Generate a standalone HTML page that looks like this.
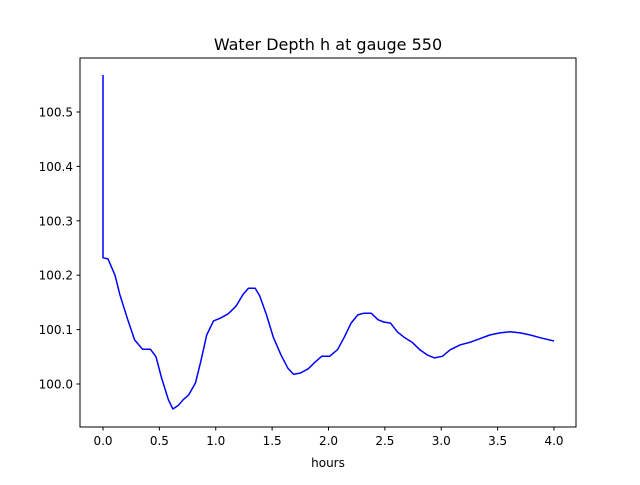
<!DOCTYPE html>
<html><head><meta charset="utf-8"><style>
body{margin:0;background:#fff}
svg text{font-family:"DejaVu Sans","Liberation Sans",sans-serif;fill:#000}
</style></head><body>
<svg id="chart" width="640" height="480" xmlns="http://www.w3.org/2000/svg">
<rect width="640" height="480" fill="#fff"/>
<text x="328" y="50" font-size="16" text-anchor="middle">Water Depth h at gauge 550</text>
<g id="plot"></g>
<rect x="80" y="58" width="496" height="369" fill="none" stroke="#000" stroke-width="1"/>
<text x="328" y="467" font-size="12" text-anchor="middle">hours</text>
</svg>
<script>
const times=[0,0,0.044,0.106,0.15,0.22,0.28,0.35,0.42,0.47,0.52,0.58,0.62,0.67,0.71,0.76,0.82,0.87,0.92,0.98,1.04,1.11,1.18,1.24,1.29,1.35,1.39,1.45,1.51,1.58,1.64,1.69,1.75,1.82,1.88,1.94,2.01,2.08,2.14,2.20,2.26,2.31,2.38,2.44,2.49,2.55,2.61,2.67,2.74,2.81,2.88,2.94,3.01,3.08,3.17,3.26,3.34,3.43,3.52,3.61,3.70,3.79,3.88,4.0];
const depth=[100.568,100.232,100.23,100.200,100.164,100.118,100.081,100.064,100.064,100.050,100.011,99.971,99.954,99.961,99.971,99.980,100.002,100.044,100.090,100.116,100.121,100.129,100.143,100.164,100.176,100.176,100.162,100.127,100.086,100.053,100.029,100.018,100.020,100.028,100.040,100.051,100.051,100.063,100.086,100.112,100.127,100.130,100.130,100.118,100.114,100.112,100.096,100.086,100.077,100.063,100.053,100.048,100.051,100.063,100.072,100.077,100.083,100.090,100.094,100.096,100.094,100.090,100.085,100.079];
const xTicks=[0.0,0.5,1.0,1.5,2.0,2.5,3.0,3.5,4.0];
const yTicks=[100.0,100.1,100.2,100.3,100.4,100.5];
const NS="http://www.w3.org/2000/svg";
const xs=v=>103+(v-0)*112.75;
const ys=v=>384-(v-100)*544;
const g=document.getElementById('plot');
function mk(t,a){const e=document.createElementNS(NS,t);for(const k in a)e.setAttribute(k,a[k]);return e;}
xTicks.forEach(t=>{
  const l=mk('line',{x1:xs(t),x2:xs(t),y1:427,y2:430.5,stroke:'#000'});
  
  
  g.appendChild(l);
  const tx=mk('text',{x:xs(t),y:445,'font-size':12,'text-anchor':'middle'});
  tx.textContent=t.toFixed(1);
  
  
  g.appendChild(tx);
});
yTicks.forEach(t=>{
  const l=mk('line',{x1:76.5,x2:80,y1:ys(t),y2:ys(t),stroke:'#000'});
  
  
  g.appendChild(l);
  const tx=mk('text',{x:73,y:ys(t)+4.5,'font-size':12,'text-anchor':'end'});
  tx.textContent=t.toFixed(1);
  
  
  g.appendChild(tx);
});
const pts=times.map((t,i)=>xs(t).toFixed(1)+','+ys(depth[i]).toFixed(1)).join(' ');
const pl=mk('polyline',{points:pts,fill:'none',stroke:'#0000ff','stroke-width':1.5,'stroke-linejoin':'round'});


g.appendChild(pl);
</script>
</body></html>
